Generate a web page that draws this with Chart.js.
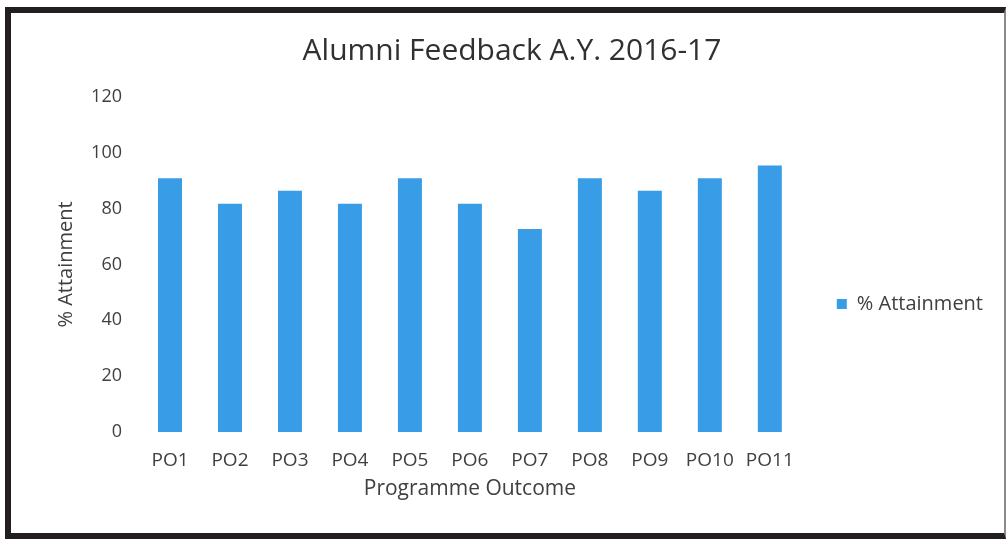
<!DOCTYPE html>
<html>
<head>
<meta charset="utf-8">
<script src="https://cdn.jsdelivr.net/npm/chart.js@4.4.1/dist/chart.umd.min.js"></script>
<style>
  html, body { margin: 0; padding: 0; background: #ffffff; }
  #wrap { position: relative; width: 1008px; height: 540px; overflow: hidden; background: #ffffff; }
  #c { position: absolute; left: 0; top: 0; }
  #frame { position: absolute; left: 5px; top: 7px; width: 1001px; height: 532px; box-sizing: border-box;
           border-top: 6px solid #231f20; border-left: 6px solid #231f20; border-bottom: 6px solid #231f20;
           border-right: 2px solid #8a8a8a; pointer-events: none; }
</style>
</head>
<body>
<div id="wrap">
  <canvas id="c" width="1008" height="540"></canvas>
  <div id="frame"></div>
</div>
<script>
// ---- data ----
const categories = ['PO1', 'PO2', 'PO3', 'PO4', 'PO5', 'PO6', 'PO7', 'PO8', 'PO9', 'PO10', 'PO11'];
const attainment = [90.9, 81.8, 86.4, 81.8, 90.9, 81.8, 72.7, 90.9, 86.4, 90.9, 95.5];
const seriesLabel = '% Attainment';
const chartTitle = 'Alumni Feedback A.Y. 2016-17';
const xAxisTitle = 'Programme Outcome';
const yAxisTitle = '% Attainment';
const yMin = 0;
const yMax = 120;
const yStep = 20;

const FONT = "'Open Sans', 'DejaVu Sans', sans-serif";
const TEXT = '#404040';
const BAR = '#389ce6';

new Chart(document.getElementById('c'), {
  type: 'bar',
  data: {
    labels: categories,
    datasets: [{
      label: seriesLabel,
      data: attainment,
      backgroundColor: BAR,
      borderWidth: 0,
      categoryPercentage: 1.0,
      barPercentage: 0.4
    }]
  },
  options: {
    responsive: false,
    animation: false,
    devicePixelRatio: 1,
    layout: { padding: { left: 31, right: 15, top: 20, bottom: 28 } },
    plugins: {
      title: {
        display: true,
        text: chartTitle,
        color: '#303030',
        font: { family: FONT, size: 30, weight: 'normal' },
        padding: { top: 13, bottom: 28 }
      },
      legend: {
        display: true,
        position: 'right',
        fullSize: false,
        align: 'center',
        title: { display: true, text: '', font: { size: 10 }, padding: { top: 33, bottom: 34 } },
        labels: {
          boxWidth: 10,
          boxHeight: 10,
          padding: 37,
          color: TEXT,
          font: { family: FONT, size: 20 }
        }
      },
      tooltip: { enabled: false }
    },
    scales: {
      x: {
        offset: true,
        grid: { display: false, drawTicks: false },
        border: { display: false },
        ticks: {
          color: TEXT,
          font: { family: FONT, size: 19 },
          padding: 17,
          autoSkip: false,
          maxRotation: 0,
          minRotation: 0
        },
        title: {
          display: true,
          text: xAxisTitle,
          color: TEXT,
          font: { family: FONT, size: 21 },
          padding: { top: 0, bottom: 10 }
        },
        afterFit: (s) => { s.height = 80; }
      },
      y: {
        min: yMin,
        max: yMax,
        grid: { display: false, drawTicks: false },
        border: { display: false },
        ticks: {
          stepSize: yStep,
          color: TEXT,
          font: { family: FONT, size: 18 },
          padding: 18
        },
        title: {
          display: true,
          text: yAxisTitle,
          color: TEXT,
          font: { family: FONT, size: 20 },
          padding: { top: 23, bottom: 0 }
        },
        afterFit: (s) => { s.width = 109; }
      }
    }
  }
});
</script>
</body>
</html>
